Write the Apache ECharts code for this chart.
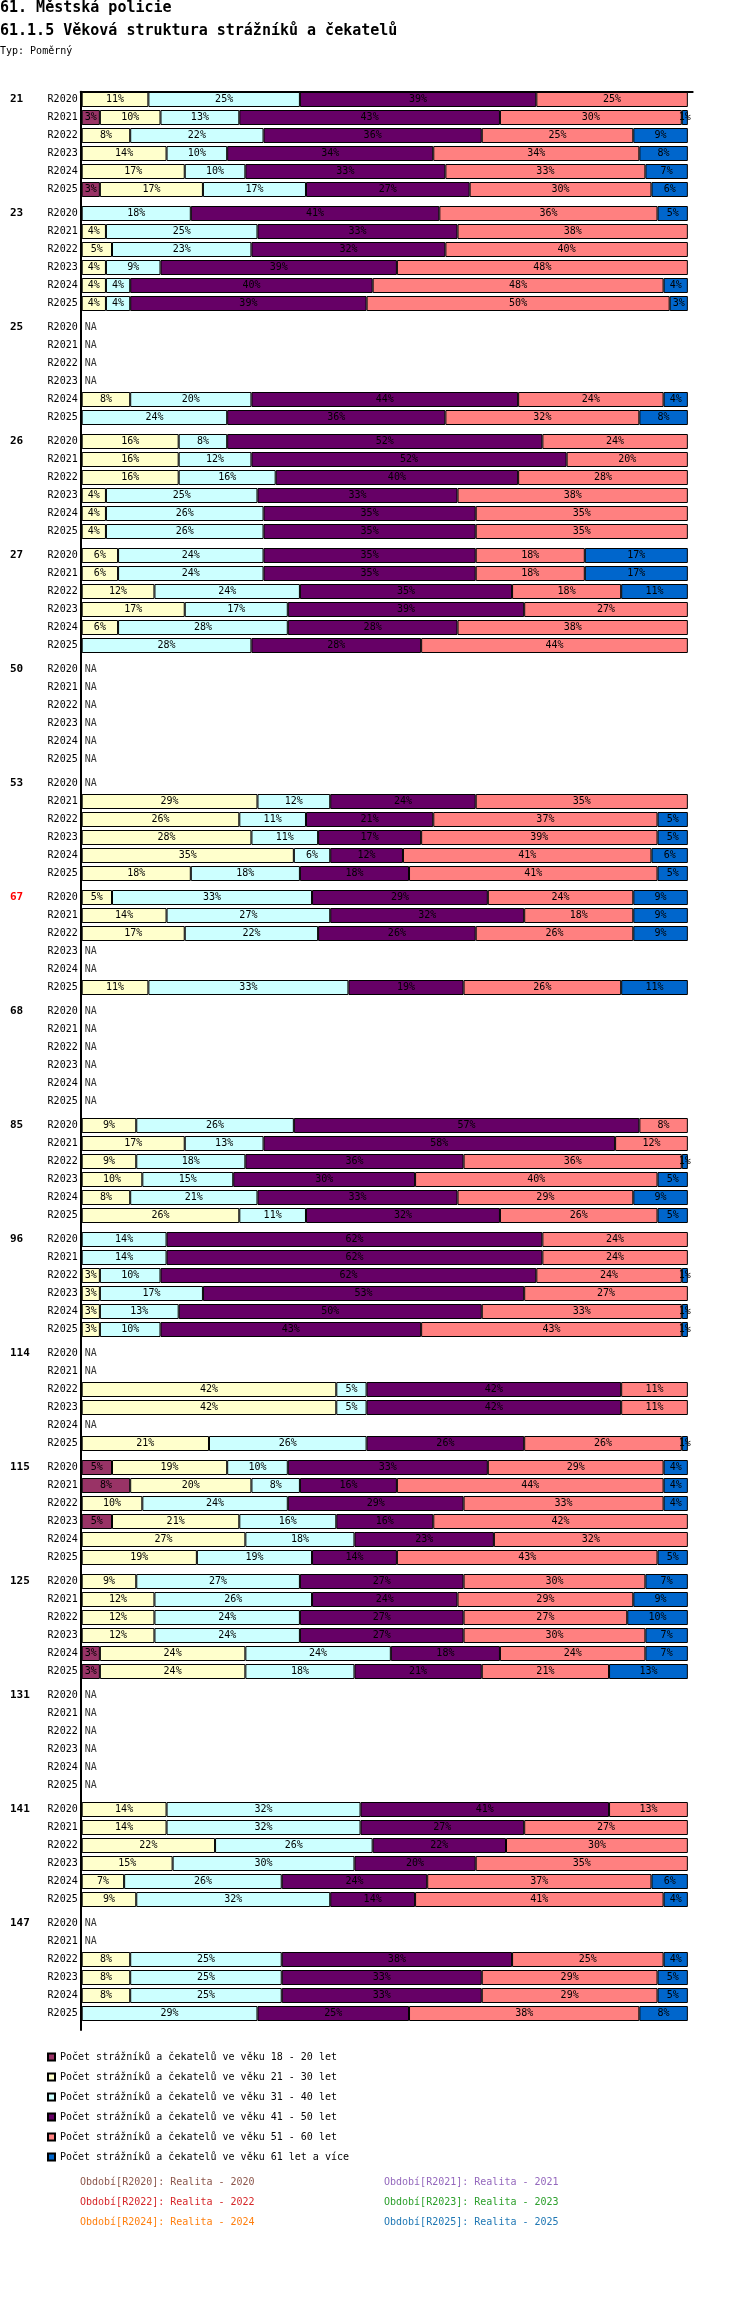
<!DOCTYPE html>
<html><head><meta charset="utf-8">
<script src="https://cdn.jsdelivr.net/npm/echarts@6/dist/echarts.min.js"></script>
<style>html,body{margin:0;padding:0;background:#fff}#c{width:750px;height:2300px}</style>
</head><body><div id="c"></div>
<script>
const N = null;
const groups = ['21','23','25','26','27','50','53','67','68','85','96','114','115','125','131','141','147'];
const highlightedGroups = ['67'];
const periods = ['R2020','R2021','R2022','R2023','R2024','R2025'];
const bandNames = [
  'Počet strážníků a čekatelů ve věku 18 - 20 let',
  'Počet strážníků a čekatelů ve věku 21 - 30 let',
  'Počet strážníků a čekatelů ve věku 31 - 40 let',
  'Počet strážníků a čekatelů ve věku 41 - 50 let',
  'Počet strážníků a čekatelů ve věku 51 - 60 let',
  'Počet strážníků a čekatelů ve věku 61 let a více'
];
const bandColors = ['#993366','#FFFFCC','#CCFFFF','#660066','#FF8080','#0066CC'];
// one line per group (R2020..R2025), percent of staff; null = no segment
const age18_20 = [
  N,3,N,N,N,3,   N,N,N,N,N,N,   N,N,N,N,N,N,   N,N,N,N,N,N,   N,N,N,N,N,N,
  N,N,N,N,N,N,   N,N,N,N,N,N,   N,N,N,N,N,N,   N,N,N,N,N,N,   N,N,N,N,N,N,
  N,N,N,N,N,N,   N,N,N,N,N,N,   5,8,N,5,N,N,   N,N,N,N,3,3,   N,N,N,N,N,N,
  N,N,N,N,N,N,   N,N,N,N,N,N
];
const age21_30 = [
  11,10,8,14,17,17,   N,4,5,4,4,4,   N,N,N,N,8,N,   16,16,16,4,4,4,   6,6,12,17,6,N,
  N,N,N,N,N,N,   N,29,26,28,35,18,   5,14,17,N,N,11,   N,N,N,N,N,N,   9,17,9,10,8,26,
  N,N,3,3,3,3,   N,N,42,42,N,21,   19,20,10,21,27,19,   9,12,12,12,24,24,   N,N,N,N,N,N,
  14,14,22,15,7,9,   N,N,8,8,8,N
];
const age31_40 = [
  25,13,22,10,10,17,   18,25,23,9,4,4,   N,N,N,N,20,24,   8,12,16,25,26,26,   24,24,24,17,28,28,
  N,N,N,N,N,N,   N,12,11,11,6,18,   33,27,22,N,N,33,   N,N,N,N,N,N,   26,13,18,15,21,11,
  14,14,10,17,13,10,   N,N,5,5,N,26,   10,8,24,16,18,19,   27,26,24,24,24,18,   N,N,N,N,N,N,
  32,32,26,30,26,32,   N,N,25,25,25,29
];
const age41_50 = [
  39,43,36,34,33,27,   41,33,32,39,40,39,   N,N,N,N,44,36,   52,52,40,33,35,35,   35,35,35,39,28,28,
  N,N,N,N,N,N,   N,24,21,17,12,18,   29,32,26,N,N,19,   N,N,N,N,N,N,   57,58,36,30,33,32,
  62,62,62,53,50,43,   N,N,42,42,N,26,   33,16,29,16,23,14,   27,24,27,27,18,21,   N,N,N,N,N,N,
  41,27,22,20,24,14,   N,N,38,33,33,25
];
const age51_60 = [
  25,30,25,34,33,30,   36,38,40,48,48,50,   N,N,N,N,24,32,   24,20,28,38,35,35,   18,18,18,27,38,44,
  N,N,N,N,N,N,   N,35,37,39,41,41,   24,18,26,N,N,26,   N,N,N,N,N,N,   8,12,36,40,29,26,
  24,24,24,27,33,43,   N,N,11,11,N,26,   29,44,33,42,32,43,   30,29,27,30,24,21,   N,N,N,N,N,N,
  13,27,30,35,37,41,   N,N,25,29,29,38
];
const age61plus = [
  N,1,9,8,7,6,   5,N,N,N,4,3,   N,N,N,N,4,8,   N,N,N,N,N,N,   17,17,11,N,N,N,
  N,N,N,N,N,N,   N,N,5,5,6,5,   9,9,9,N,N,11,   N,N,N,N,N,N,   N,N,1,5,9,5,
  N,N,1,N,1,1,   N,N,N,N,N,1,   4,4,4,N,N,5,   7,9,10,7,7,13,   N,N,N,N,N,N,
  N,N,N,N,6,4,   N,N,4,5,5,8
];
const bands = [age18_20, age21_30, age31_40, age41_50, age51_60, age61plus];
const notes = [
  ['Období[R2020]: Realita - 2020', '#8c564b'], ['Období[R2021]: Realita - 2021', '#9467bd'],
  ['Období[R2022]: Realita - 2022', '#d62728'], ['Období[R2023]: Realita - 2023', '#2ca02c'],
  ['Období[R2024]: Realita - 2024', '#ff7f0e'], ['Období[R2025]: Realita - 2025', '#1f77b4']
];

const FONT = 'DejaVu Sans Mono';
const ROW = 18, GROUP = 114, TOP0 = 90.5, LEFT = 81.7, XMAX = 100.8, GW = 611;

const grid = [], xAxis = [], yAxis = [], series = [];
groups.forEach((g, gi) => {
  grid.push({left: LEFT, top: TOP0 + GROUP * gi, width: GW, height: ROW * 6});
  xAxis.push({type: 'value', gridIndex: gi, min: 0, max: XMAX, show: false});
  yAxis.push({
    type: 'category', gridIndex: gi, data: periods, inverse: true,
    axisLine: {show: false}, axisTick: {show: false}, splitLine: {show: false},
    axisLabel: {fontSize: 10, color: '#000', margin: 4, fontFamily: FONT, interval: 0}
  });
  yAxis.push({
    type: 'category', gridIndex: gi, data: periods, inverse: true, position: 'left',
    axisLine: {show: false}, axisTick: {show: false}, splitLine: {show: false},
    axisLabel: {
      interval: 0, align: 'left', margin: LEFT - 10, fontSize: 11, fontWeight: 'bold', fontFamily: FONT,
      color: highlightedGroups.includes(g) ? '#ff0000' : '#000',
      formatter: (v, i) => (i === 0 ? g : '')
    }
  });
  bands.forEach((arr, b) => {
    series.push({
      type: 'bar', name: bandNames[b], xAxisIndex: gi, yAxisIndex: gi * 2, stack: 'g' + gi,
      barWidth: 15,
      data: arr.slice(gi * 6, gi * 6 + 6),
      itemStyle: {color: bandColors[b], borderColor: '#000', borderWidth: 1},
      label: {
        show: true, position: 'inside', fontSize: 10, color: '#000', fontFamily: FONT,
        formatter: p => (p.value == null ? '' : Math.round(p.value) + '%')
      },
      emphasis: {disabled: true}, animation: false
    });
  });
  const naData = [];
  periods.forEach((p, r) => {
    if (bands.every(arr => arr[gi * 6 + r] == null)) naData.push([0, r]);
  });
  series.push({
    type: 'scatter', name: 'NA', xAxisIndex: gi, yAxisIndex: gi * 2, symbolSize: 0,
    data: naData, silent: true, animation: false,
    label: {show: true, position: 'right', distance: 3, formatter: 'NA', fontSize: 10, color: '#000', fontFamily: FONT}
  });
});
// frame axes (top line and left line)
const fi = groups.length;
grid.push({left: LEFT - 1, top: 91.7, width: GW + 1, height: 2030 - 91.7});
xAxis.push({type: 'value', gridIndex: fi, min: 0, max: 1, position: 'top',
  axisLine: {show: true, onZero: false, lineStyle: {color: '#000', width: 2}},
  axisTick: {show: false}, axisLabel: {show: false}, splitLine: {show: false}});
yAxis.push({type: 'value', gridIndex: fi, min: 0, max: 1, position: 'left',
  axisLine: {show: true, onZero: false, lineStyle: {color: '#000', width: 2}},
  axisTick: {show: false}, axisLabel: {show: false}, splitLine: {show: false}});

const titles = [
  {text: '61. Městská policie', left: 0, top: 1, padding: 0,
   textStyle: {fontSize: 15, fontWeight: 'bold', fontFamily: FONT, color: '#000'}},
  {text: '61.1.5 Věková struktura strážníků a čekatelů', left: 0, top: 24, padding: 0,
   textStyle: {fontSize: 15, fontWeight: 'bold', fontFamily: FONT, color: '#000'}},
  {text: 'Typ: Poměrný', left: 0, top: 46, padding: 0,
   textStyle: {fontSize: 10, fontWeight: 'normal', fontFamily: FONT, color: '#000'}}
];
notes.forEach((n, i) => {
  titles.push({text: n[0], left: i % 2 === 0 ? 80 : 384, top: 2176 + 20 * Math.floor(i / 2), padding: 0,
    textStyle: {fontSize: 10, fontWeight: 'normal', fontFamily: FONT, color: n[1], lineHeight: 12}});
});

const chart = echarts.init(document.getElementById('c'), null, {renderer: 'canvas'});
chart.setOption({
  animation: false,
  title: titles,
  legend: {
    data: bandNames, orient: 'vertical', left: 47, top: 2051, itemWidth: 7, itemHeight: 7, itemGap: 8,
    icon: 'rect', selectedMode: false, padding: 0,
    textStyle: {fontSize: 10, lineHeight: 12, fontFamily: FONT, color: '#000'}
  },
  grid, xAxis, yAxis, series
});
</script>
</body></html>
